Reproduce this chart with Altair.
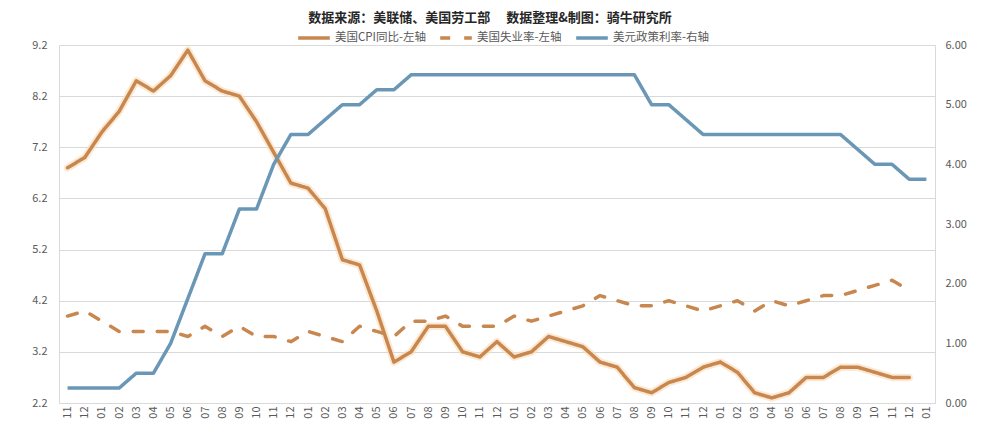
import altair as alt
import pandas as pd

months = [
    "2021-11", "2021-12",
    "2022-01", "2022-02", "2022-03", "2022-04", "2022-05", "2022-06",
    "2022-07", "2022-08", "2022-09", "2022-10", "2022-11", "2022-12",
    "2023-01", "2023-02", "2023-03", "2023-04", "2023-05", "2023-06",
    "2023-07", "2023-08", "2023-09", "2023-10", "2023-11", "2023-12",
    "2024-01", "2024-02", "2024-03", "2024-04", "2024-05", "2024-06",
    "2024-07", "2024-08", "2024-09", "2024-10", "2024-11", "2024-12",
    "2025-01", "2025-02", "2025-03", "2025-04", "2025-05", "2025-06",
    "2025-07", "2025-08", "2025-09", "2025-10", "2025-11", "2025-12",
    "2026-01",
]

cpi = [6.8, 7.0, 7.5, 7.9, 8.5, 8.3, 8.6, 9.1, 8.5, 8.3, 8.2, 7.7, 7.1, 6.5,
       6.4, 6.0, 5.0, 4.9, 4.0, 3.0, 3.2, 3.7, 3.7, 3.2, 3.1, 3.4,
       3.1, 3.2, 3.5, 3.4, 3.3, 3.0, 2.9, 2.5, 2.4, 2.6, 2.7, 2.9,
       3.0, 2.8, 2.4, 2.3, 2.4, 2.7, 2.7, 2.9, 2.9, 2.8, 2.7, 2.7, None]

unemployment = [3.9, 4.0, 3.8, 3.6, 3.6, 3.6, 3.6, 3.5, 3.7, 3.5, 3.7, 3.5, 3.5,
                3.4, 3.6, 3.5, 3.4, 3.7, 3.6, 3.5, 3.8, 3.8, 3.9, 3.7, 3.7, 3.7,
                3.9, 3.8, 3.9, 4.0, 4.1, 4.3, 4.2, 4.1, 4.1, 4.2, 4.1, 4.0,
                4.1, 4.2, 4.0, 4.2, 4.1, 4.2, 4.3, 4.3, 4.4, 4.5, 4.6, 4.4, None]

policy_rate = [0.25, 0.25, 0.25, 0.25, 0.50, 0.50, 1.00, 1.75, 2.50, 2.50, 3.25, 3.25,
               4.00, 4.50, 4.50, 4.75, 5.00, 5.00, 5.25, 5.25, 5.50, 5.50, 5.50, 5.50,
               5.50, 5.50, 5.50, 5.50, 5.50, 5.50, 5.50, 5.50, 5.50, 5.50, 5.00, 5.00,
               4.75, 4.50, 4.50, 4.50, 4.50, 4.50, 4.50, 4.50, 4.50, 4.50, 4.25, 4.00,
               4.00, 3.75, 3.75]

left_ticks = [2.2, 3.2, 4.2, 5.2, 6.2, 7.2, 8.2, 9.2]
right_ticks = [0, 1, 2, 3, 4, 5, 6]

S_CPI = "美国CPI同比-左轴"
S_UNEMP = "美国失业率-左轴"
S_RATE = "美元政策利率-右轴"
series_names = [S_CPI, S_UNEMP, S_RATE]

ORANGE = "#C8874F"
BLUE = "#6A97B6"
FONT = "Noto Sans CJK SC"

rows_left = []
for m, v in zip(months, cpi):
    if v is not None:
        rows_left.append({"month": m, "value": v, "series": S_CPI})
for m, v in zip(months, unemployment):
    if v is not None:
        rows_left.append({"month": m, "value": v, "series": S_UNEMP})
left_df = pd.DataFrame(rows_left)
cpi_df = left_df[left_df["series"] == S_CPI]
rate_df = pd.DataFrame({"month": months, "value": policy_rate, "series": S_RATE})

x_enc = alt.X(
    "month:N",
    sort=months,
    scale=alt.Scale(type="point", padding=0.5),
    axis=alt.Axis(
        title=None,
        labelExpr="substring(datum.value, 5)",
        labelAngle=-90,
        domain=False,
        ticks=False,
        grid=False,
        labelFontSize=11,
        labelColor="#595959",
        labelPadding=3,
    ),
)

y_left = alt.Y(
    "value:Q",
    scale=alt.Scale(domain=[2.2, 9.2], nice=False, zero=False),
    axis=alt.Axis(
        title=None,
        values=left_ticks,
        format=".1f",
        domain=False,
        ticks=False,
        grid=True,
        gridColor="#D9D9D9",
        labelFontSize=11,
        labelColor="#595959",
        labelPadding=12,
    ),
)

y_right = alt.Y(
    "value:Q",
    scale=alt.Scale(domain=[0, 6], nice=False),
    axis=alt.Axis(
        title=None,
        orient="right",
        values=right_ticks,
        format=".2f",
        domain=False,
        ticks=False,
        grid=False,
        labelFontSize=11,
        labelColor="#595959",
        labelPadding=10,
    ),
)

legend = alt.Legend(
    title=None,
    orient="none",
    legendX=237,
    legendY=-25,
    direction="horizontal",
    symbolType="stroke",
    symbolSize=1000,
    symbolStrokeWidth=3.5,
    labelFontSize=11.5,
    labelColor="#595959",
    labelFont=FONT,
    labelOffset=3,
    columnPadding=7,
)

color_enc = alt.Color(
    "series:N",
    scale=alt.Scale(domain=series_names, range=[ORANGE, ORANGE, BLUE]),
    legend=legend,
)
dash_enc = alt.StrokeDash(
    "series:N",
    scale=alt.Scale(domain=series_names, range=[[1, 0], [10, 14], [1, 0]]),
    legend=legend,
)

glow = alt.Chart(cpi_df).mark_line(
    color="#FBDDBB", strokeWidth=7.5, opacity=0.65, strokeJoin="round", strokeCap="round"
).encode(x=x_enc, y=y_left)

left_lines = alt.Chart(left_df).mark_line(
    strokeWidth=3.5, strokeJoin="round", strokeCap="round"
).encode(x=x_enc, y=y_left, color=color_enc, strokeDash=dash_enc,
         detail="series:N")

right_line = alt.Chart(rate_df).mark_line(
    strokeWidth=3.5, strokeJoin="round"
).encode(x=x_enc, y=y_right, color=color_enc, strokeDash=dash_enc)

left_layer = alt.layer(glow, left_lines)

chart = (
    alt.layer(left_layer, right_line)
    .resolve_scale(y="independent")
    .properties(
        width=876,
        height=358,
        autosize=alt.AutoSizeParams(type="none"),
        padding={"left": 51, "top": 37, "right": 45, "bottom": 28},
        title=alt.TitleParams(
            text="数据来源：美联储、美国劳工部　 数据整理&制图：骑牛研究所",
            fontSize=13,
            fontWeight="bold",
            color="#262626",
            font=FONT,
            anchor="middle",
            frame="group",
            offset=-5,
            dx=-7,
        ),
    )
    .configure(font=FONT)
    .configure_view(stroke="#D9D9D9", strokeWidth=1)
)

chart.save("out.html", embed_options={"renderer": "svg", "actions": False})
